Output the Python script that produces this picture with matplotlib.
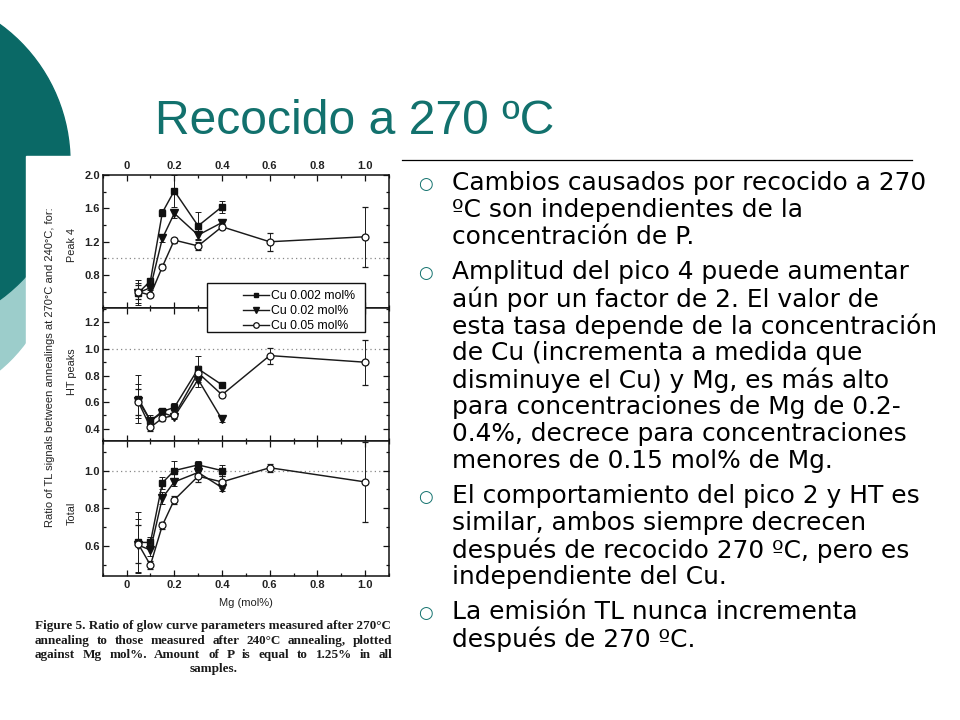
import matplotlib
matplotlib.use('Agg')
import matplotlib.pyplot as plt
from matplotlib.patches import Circle, Rectangle
from matplotlib.lines import Line2D
from matplotlib.ticker import MultipleLocator, FuncFormatter

# ---------------- data ----------------
mg_all = [0.05, 0.1, 0.15, 0.2, 0.3, 0.4, 0.6, 1.0]
mg_cu = [0.05, 0.1, 0.15, 0.2, 0.3, 0.4]
series_labels = ["Cu 0.002 mol%", "Cu 0.02 mol%", "Cu 0.05 mol%"]

peak4_cu002 = [0.59, 0.73, 1.55, 1.81, 1.39, 1.62]
peak4_cu002_err = [0.15, 0.04, 0.04, 0.19, 0.17, 0.07]
peak4_cu02 = [0.59, 0.65, 1.24, 1.54, 1.28, 1.43]
peak4_cu02_err = [0.12, 0.03, 0.04, 0.05, 0.05, 0.04]
peak4_cu05 = [0.60, 0.56, 0.90, 1.22, 1.15, 1.38, 1.20, 1.26]
peak4_cu05_err = [0.08, 0.02, 0.03, 0.03, 0.05, 0.03, 0.11, 0.36]

ht_cu002 = [0.625, 0.46, 0.53, 0.56, 0.85, 0.73]
ht_cu002_err = [0.18, 0.04, 0.02, 0.03, 0.10, 0.02]
ht_cu02 = [0.61, 0.46, 0.52, 0.49, 0.77, 0.47]
ht_cu02_err = [0.13, 0.03, 0.02, 0.02, 0.06, 0.02]
ht_cu05 = [0.60, 0.41, 0.48, 0.50, 0.82, 0.655, 0.95, 0.90]
ht_cu05_err = [0.10, 0.03, 0.02, 0.02, 0.05, 0.02, 0.06, 0.17]

tot_cu002 = [0.62, 0.62, 0.935, 1.0, 1.03, 1.0]
tot_cu002_err = [0.16, 0.03, 0.03, 0.05, 0.02, 0.03]
tot_cu02 = [0.605, 0.58, 0.855, 0.94, 0.99, 0.91]
tot_cu02_err = [0.14, 0.03, 0.03, 0.02, 0.02, 0.02]
tot_cu05 = [0.61, 0.50, 0.71, 0.845, 0.97, 0.94, 1.015, 0.94]
tot_cu05_err = [0.10, 0.02, 0.02, 0.02, 0.03, 0.03, 0.02, 0.21]

panel_names = ["Peak 4", "HT peaks", "Total"]

title_text = "Recocido a 270 ºC"
bullets = [
    ["Cambios causados por recocido a 270",
     "ºC son independientes de la",
     "concentración de P."],
    ["Amplitud del pico 4 puede aumentar",
     "aún por un factor de 2. El valor de",
     "esta tasa depende de la concentración",
     "de Cu (incrementa a medida que",
     "disminuye el Cu) y Mg, es más alto",
     "para concentraciones de Mg de 0.2-",
     "0.4%, decrece para concentraciones",
     "menores de 0.15 mol% de Mg."],
    ["El comportamiento del pico 2 y HT es",
     "similar, ambos siempre decrecen",
     "después de recocido 270 ºC, pero es",
     "independiente del Cu."],
    ["La emisión TL nunca incrementa",
     "después de 270 ºC."],
]
caption_lines = [
    "Figure 5. Ratio of glow curve parameters measured after 270°C",
    "annealing to those measured after 240°C annealing, plotted",
    "against Mg mol%. Amount of P is equal to 1.25% in all",
    "samples.",
]
ylabel_text = "Ratio of TL signals between annealings at 270°C and 240°C, for:"
xlabel_text = "Mg (mol%)"

# ---------------- figure ----------------
W, H = 960, 720
fig = plt.figure(figsize=(W / 100, H / 100), dpi=100)
fig.patch.set_facecolor('white')
renderer = fig.canvas.get_renderer()

bg = fig.add_axes([0, 0, 1, 1], zorder=0)
bg.set_xlim(0, W)
bg.set_ylim(H, 0)
bg.axis('off')

TEAL_DARK = '#0a6966'
TEAL_LIGHT = '#9ccdcb'
TEAL_TXT = '#12716d'

bg.add_patch(Circle((-100, 250), 156, color=TEAL_LIGHT, zorder=1))
bg.add_patch(Circle((-100, 162), 170, color=TEAL_DARK, zorder=2))
bg.add_patch(Rectangle((26, 156), W, H, color='white', zorder=3))


def text_width(text, size, family, **kw):
    t = bg.text(300, 300, text, fontsize=size, family=family, **kw)
    w = t.get_window_extent(renderer).width
    t.remove()
    return w


def fit_size(text, target, family, start=14, **kw):
    s = start
    for _ in range(4):
        s = s * target / text_width(text, s, family, **kw)
    return s


# title
ts = fit_size(title_text, 398, 'Liberation Sans', start=32)
bg.text(155, 121, title_text, fontsize=ts, family='Liberation Sans',
        color=TEAL_TXT, ha='left', va='center', zorder=5)
bg.plot([402, 912], [160, 160], color='black', lw=0.9, zorder=5)

# bullet text
bs = fit_size("esta tasa depende de la concentración", 484, 'DejaVu Sans')
y = 183
for bi, para in enumerate(bullets):
    bg.text(425, y + 1, "○", fontsize=bs * 0.68, family='DejaVu Sans',
            color=TEAL_TXT, ha='center', va='center', zorder=5)
    for li, line in enumerate(para):
        bg.text(452, y, line, fontsize=bs, family='DejaVu Sans', color='black',
                ha='left', va='center', zorder=5)
        y += 27
    y += 8

# caption (justified)
cap_family = 'Liberation Serif'
cap_kw = dict(weight='bold')
x0, x1 = 35, 392
cs = fit_size(caption_lines[0], x1 - x0, cap_family, start=9, **cap_kw)

cap_y = [626, 641, 655, 669]
for i, line in enumerate(caption_lines):
    if i == len(caption_lines) - 1:
        bg.text((x0 + x1) / 2, cap_y[i], line, fontsize=cs, family=cap_family,
                ha='center', va='center', color='#1a1a1a', zorder=5, **cap_kw)
        continue
    if i == 0:
        bg.text(x0, cap_y[i], line, fontsize=cs, family=cap_family,
                ha='left', va='center', color='#1a1a1a', zorder=5, **cap_kw)
        continue
    words = line.split(' ')
    full_w = text_width(line, cs, cap_family, **cap_kw)
    extra = (x1 - x0 - full_w) / (len(words) - 1)
    for k, wd in enumerate(words):
        if k == 0:
            start = 0.0
        else:
            prefix = ' '.join(words[:k + 1])
            start = (text_width(prefix, cs, cap_family, **cap_kw)
                     - text_width(wd, cs, cap_family, **cap_kw))
        bg.text(x0 + start + extra * k, cap_y[i], wd, fontsize=cs,
                family=cap_family, ha='left', va='center', color='#1a1a1a',
                zorder=5, **cap_kw)

# ---------------- plot panels ----------------
left = 102.7 / W
width = (389 - 102.7) / W
panels_px = [(175, 307.7), (307.7, 440.7), (440.7, 575.7)]
ylims = [(0.41, 2.0), (0.31, 1.31), (0.444, 1.158)]
majors = [0.4, 0.2, 0.2]
minors = [0.2, 0.1, 0.1]
label_y = [0.47, 0.52, 0.46]

data = [
    [(peak4_cu002, peak4_cu002_err), (peak4_cu02, peak4_cu02_err), (peak4_cu05, peak4_cu05_err)],
    [(ht_cu002, ht_cu002_err), (ht_cu02, ht_cu02_err), (ht_cu05, ht_cu05_err)],
    [(tot_cu002, tot_cu002_err), (tot_cu02, tot_cu02_err), (tot_cu05, tot_cu05_err)],
]
styles = [
    dict(marker='s', ms=4.5, mfc='#111111', mec='#111111'),
    dict(marker='v', ms=5.5, mfc='#111111', mec='#111111'),
    dict(marker='o', ms=5, mfc='white', mec='#111111', mew=0.9),
]
xs = [mg_cu, mg_cu, mg_all]

fmt = FuncFormatter(lambda v, p: '0' if abs(v) < 1e-9 else f'{v:.1f}')
TICK_FAM = 'Liberation Sans'
TICK_SIZE = 8
LINEC = '#1a1a1a'


def style_ticklabels(ax):
    for lab in ax.get_xticklabels() + ax.get_yticklabels():
        lab.set_fontfamily(TICK_FAM)
        lab.set_fontsize(TICK_SIZE)
        lab.set_fontweight('bold')
        lab.set_color('#222222')


axes = []
for pi, (top, bot) in enumerate(panels_px):
    ax = fig.add_axes([left, 1 - bot / H, width, (bot - top) / H], zorder=2)
    axes.append(ax)
    ax.set_xlim(-0.1, 1.1)
    ax.set_ylim(*ylims[pi])
    ax.axhline(1.0, color='#888888', lw=0.9, ls=(0, (1, 2.5)), zorder=1)
    for si in range(3):
        vals, errs = data[pi][si]
        ax.errorbar(xs[si], vals, yerr=errs, color=LINEC, lw=1.05,
                    elinewidth=0.7, capsize=2.2, capthick=0.7,
                    zorder=3 + si, **styles[si])
    ax.xaxis.set_major_locator(MultipleLocator(0.2))
    ax.xaxis.set_minor_locator(MultipleLocator(0.1))
    ax.yaxis.set_major_locator(MultipleLocator(majors[pi]))
    ax.yaxis.set_minor_locator(MultipleLocator(minors[pi]))
    ax.xaxis.set_major_formatter(fmt)
    ax.tick_params(which='both', direction='in', top=True, right=True,
                   width=0.9, colors='#111111')
    ax.tick_params(which='major', length=4, pad=3)
    ax.tick_params(which='minor', length=2)
    ax.tick_params(axis='y', which='major', pad=2)
    ax.tick_params(labelbottom=(pi == 2), labeltop=(pi == 0))
    if pi == 0:
        ax.set_yticks([0.8, 1.2, 1.6, 2.0])
    style_ticklabels(ax)
    for sp in ax.spines.values():
        sp.set_linewidth(1.1)
        sp.set_color('#111111')
    ax.set_ylabel(panel_names[pi], fontsize=7.8, family='Liberation Sans',
                  color='#222222')
    ax.yaxis.set_label_coords(-0.09, label_y[pi])

axes[2].set_xlabel(xlabel_text, fontsize=8, family='Liberation Sans',
                   color='#222222', labelpad=6)

bg.text(50, 367, ylabel_text, rotation=90, fontsize=8.0,
        family='Liberation Sans', color='#222222', ha='center', va='center',
        zorder=5)

# legend box (drawn above panels)
fig.add_artist(Rectangle((206.7 / W, 1 - 332.3 / H), (365 - 206.7) / W,
                         (332.3 - 282.7) / H, transform=fig.transFigure,
                         facecolor='white', edgecolor='#111111', lw=1.0,
                         zorder=10))
handles = [Line2D([], [], color=LINEC, lw=1.0, **styles[i]) for i in range(3)]
handles[0].set_markersize(3.5)
handles[1].set_markersize(4.5)
handles[2].set_markersize(4)
leg = fig.legend(handles, series_labels, loc='upper left',
                 bbox_to_anchor=(236 / W, 1 - 283 / H), frameon=False,
                 prop=dict(family='Liberation Sans', size=8.8),
                 handlelength=2.1, handletextpad=0.2, labelspacing=0.25,
                 borderpad=0.1)
leg.set_zorder(11)

fig.savefig('out.png', dpi=100, facecolor='white')
